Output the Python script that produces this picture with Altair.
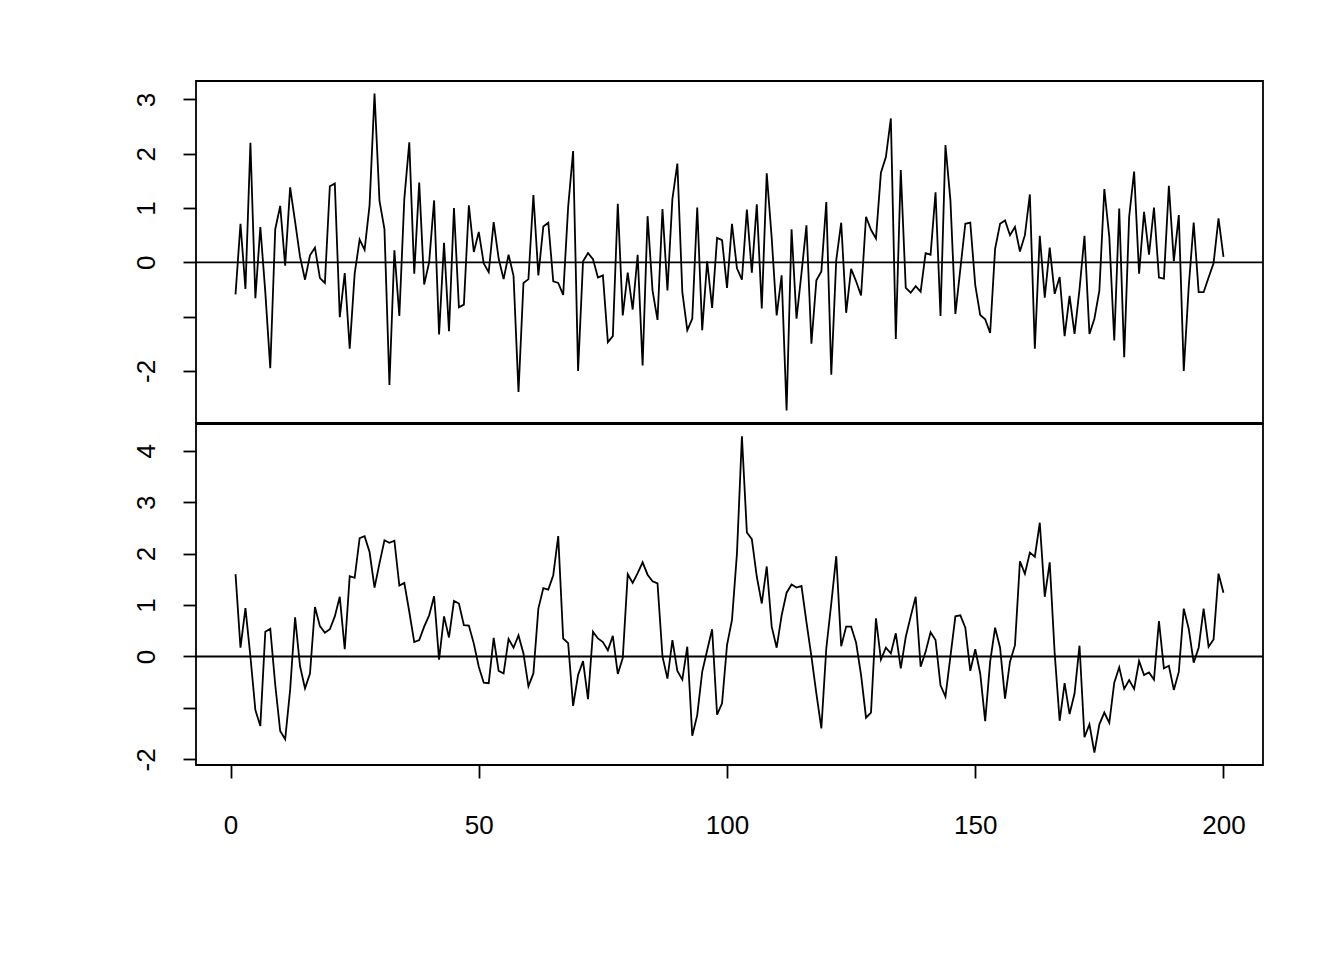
import altair as alt
import pandas as pd

t = list(range(1, 201))

top_series = [
    -0.59, 0.71, -0.49, 2.20, -0.66, 0.65, -0.55, -1.95, 0.61, 1.04,
    -0.06, 1.38, 0.75, 0.10, -0.32, 0.13, 0.27, -0.29, -0.38, 1.40,
    1.45, -1.01, -0.20, -1.59, -0.21, 0.42, 0.23, 1.05, 3.11, 1.13,
    0.61, -2.26, 0.22, -0.99, 1.17, 2.21, -0.21, 1.47, -0.41, 0.00,
    1.14, -1.33, 0.36, -1.27, 1.00, -0.83, -0.78, 1.05, 0.19, 0.56,
    -0.02, -0.18, 0.74, 0.07, -0.31, 0.14, -0.25, -2.39, -0.38, -0.31,
    1.24, -0.24, 0.66, 0.73, -0.35, -0.38, -0.60, 1.02, 2.05, -2.00,
    0.02, 0.17, 0.06, -0.28, -0.24, -1.47, -1.36, 1.08, -0.98, -0.19,
    -0.87, 0.14, -1.90, 0.85, -0.52, -1.06, 0.98, -0.52, 1.17, 1.82,
    -0.55, -1.25, -1.04, 1.01, -1.25, 0.02, -0.84, 0.45, 0.41, -0.47,
    0.71, -0.11, -0.32, 0.97, -0.19, 1.07, -0.85, 1.64, 0.45, -0.98,
    -0.24, -2.73, 0.61, -1.04, -0.20, 0.68, -1.50, -0.33, -0.17, 1.11,
    -2.07, 0.04, 0.73, -0.93, -0.12, -0.35, -0.61, 0.84, 0.60, 0.44,
    1.65, 1.94, 2.65, -1.41, 1.70, -0.47, -0.56, -0.44, -0.54, 0.17,
    0.14, 1.29, -0.99, 2.16, 1.14, -0.95, -0.12, 0.71, 0.73, -0.42,
    -0.97, -1.05, -1.30, 0.25, 0.71, 0.77, 0.50, 0.65, 0.20, 0.50,
    1.25, -1.59, 0.49, -0.65, 0.27, -0.58, -0.27, -1.36, -0.62, -1.32,
    -0.50, 0.49, -1.32, -1.04, -0.52, 1.35, 0.47, -1.44, 0.99, -1.75,
    0.84, 1.67, -0.21, 0.93, 0.14, 1.01, -0.28, -0.30, 1.41, 0.02,
    0.87, -2.00, -0.45, 0.73, -0.55, -0.55, -0.28, -0.02, 0.81, 0.10,
]

bottom_series = [
    1.60, 0.17, 0.94, 0.00, -1.04, -1.35, 0.48, 0.54, -0.55, -1.45,
    -1.61, -0.65, 0.76, -0.19, -0.62, -0.33, 0.96, 0.59, 0.46, 0.53,
    0.78, 1.16, 0.14, 1.56, 1.53, 2.30, 2.34, 2.03, 1.34, 1.81,
    2.26, 2.21, 2.25, 1.38, 1.43, 0.87, 0.28, 0.32, 0.58, 0.80,
    1.17, -0.06, 0.78, 0.37, 1.08, 1.03, 0.61, 0.60, 0.25, -0.20,
    -0.51, -0.52, 0.36, -0.28, -0.33, 0.34, 0.17, 0.41, 0.06, -0.58,
    -0.33, 0.93, 1.33, 1.30, 1.58, 2.34, 0.35, 0.26, -0.96, -0.36,
    -0.09, -0.83, 0.48, 0.35, 0.28, 0.12, 0.40, -0.34, -0.03, 1.60,
    1.43, 1.62, 1.83, 1.59, 1.46, 1.42, 0.00, -0.43, 0.32, -0.28,
    -0.45, 0.19, -1.54, -1.14, -0.30, 0.12, 0.53, -1.13, -0.91, 0.22,
    0.71, 2.00, 4.28, 2.41, 2.28, 1.55, 1.03, 1.75, 0.58, 0.17,
    0.80, 1.24, 1.40, 1.34, 1.37, 0.67, 0.00, -0.72, -1.40, 0.16,
    1.03, 1.95, 0.20, 0.58, 0.58, 0.27, -0.36, -1.19, -1.09, 0.74,
    -0.06, 0.17, 0.06, 0.45, -0.23, 0.38, 0.78, 1.16, -0.20, 0.09,
    0.47, 0.32, -0.56, -0.78, 0.00, 0.78, 0.80, 0.56, -0.28, 0.14,
    -0.33, -1.26, -0.10, 0.56, 0.17, -0.82, -0.10, 0.22, 1.85, 1.61,
    2.02, 1.94, 2.60, 1.16, 1.83, 0.06, -1.25, -0.52, -1.12, -0.72,
    0.21, -1.57, -1.32, -1.87, -1.32, -1.09, -1.29, -0.51, -0.21, -0.63,
    -0.46, -0.63, -0.09, -0.36, -0.31, -0.45, 0.69, -0.23, -0.18, -0.65,
    -0.30, 0.93, 0.54, -0.12, 0.17, 0.93, 0.19, 0.33, 1.61, 1.24,
]

x_ticks = [0, 50, 100, 150, 200]
top_yticks = [-2, -1, 0, 1, 2, 3]
bottom_yticks = [-2, -1, 0, 1, 2, 3, 4]
top_domain = [-2.96, 3.34]
bottom_domain = [-2.11, 4.52]
x_domain = [-6.96, 207.96]
zero_level = [0]

df = pd.DataFrame({"t": t, "top": top_series, "bottom": bottom_series})
zdf = pd.DataFrame({"z": zero_level})

FONT = "Liberation Sans"
FS = 26
LW = 1.8
x_scale = alt.Scale(domain=x_domain, nice=False, zero=False)
label_expr = "datum.value == -1 ? '' : '' + datum.value"


def y_axis(vals):
    return alt.Axis(
        values=vals, labelExpr=label_expr, title=None, domain=False, grid=False,
        tickSize=13, tickColor="black", tickWidth=LW,
        labelAngle=-90, labelAlign="center", labelBaseline="alphabetic",
        labelPadding=29, labelFont=FONT, labelFontSize=FS, labelColor="black",
        labelOverlap=False,
    )


x_axis = alt.Axis(
    values=x_ticks, title=None, domain=False, grid=False,
    tickSize=13, tickColor="black", tickWidth=LW,
    labelPadding=34, labelFont=FONT, labelFontSize=FS, labelColor="black",
    labelAngle=0, labelAlign="center", labelBaseline="top", labelFlush=False,
    format="d",
)


def panel(field, domain, yticks, show_x, height):
    yscale = alt.Scale(domain=domain, nice=False, zero=False)
    line = alt.Chart(df).mark_line(color="black", strokeWidth=LW).encode(
        x=alt.X("t:Q", scale=x_scale, axis=x_axis if show_x else None),
        y=alt.Y(f"{field}:Q", scale=yscale, axis=y_axis(yticks)),
    )
    zero = alt.Chart(zdf).mark_rule(color="black", strokeWidth=LW).encode(
        y=alt.Y("z:Q", scale=yscale),
    )
    return alt.layer(line, zero).properties(width=1067, height=height)


top = panel("top", top_domain, top_yticks, False, 342)
bottom = panel("bottom", bottom_domain, bottom_yticks, True, 341)

chart = (
    alt.vconcat(top, bottom, spacing=-2)
    .resolve_scale(y="independent")
    .properties(padding={"left": 124, "top": 72, "right": 20, "bottom": 20}, background="white")
    .configure_view(stroke="black", strokeWidth=LW)
)

chart.save("out.html", embed_options={"renderer": "svg", "actions": False})
